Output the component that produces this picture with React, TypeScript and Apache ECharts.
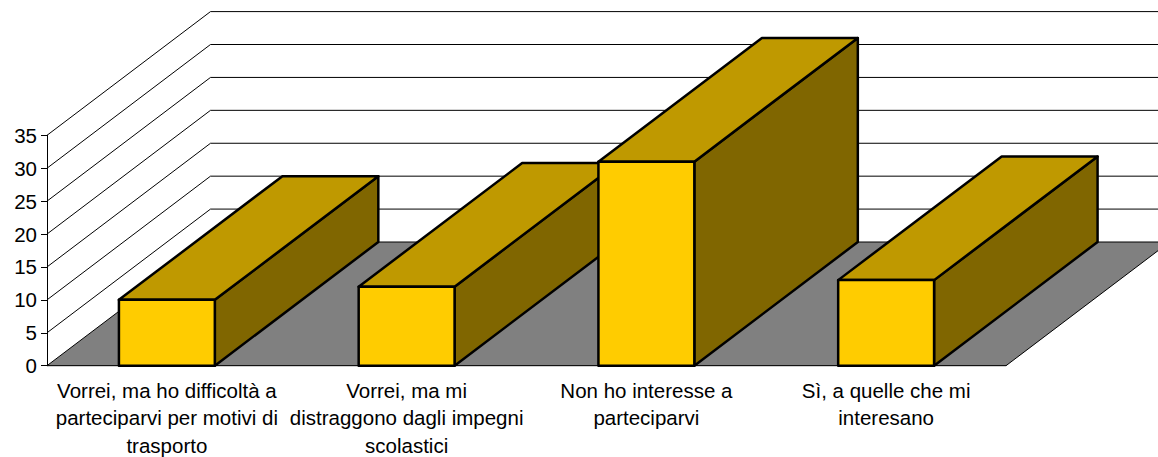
import React, { useEffect, useRef } from "react";
import * as echarts from "echarts";

const categories = [
  "Vorrei, ma ho difficoltà a\nparteciparvi per motivi di\ntrasporto",
  "Vorrei, ma mi\ndistraggono dagli impegni\nscolastici",
  "Non ho interesse a\nparteciparvi",
  "Sì, a quelle che mi\ninteresano",
];
const values = [10, 12, 31, 13];
const gridValues = [5, 10, 15, 20, 25, 30, 35];

const DX = 163.5;
const DY = 123.7;
const FRONT = "#FFCC00";
const TOP = "#BF9900";
const SIDE = "#806600";
const FLOOR = "#808080";
const FONT = "'Liberation Sans', Arial, sans-serif";

export default function App() {
  const ref = useRef<HTMLDivElement>(null);
  useEffect(() => {
    const chart = echarts.init(ref.current!, null, { renderer: "svg" });
    chart.setOption({
      animation: false,
      backgroundColor: "#ffffff",
      grid: {
        left: 47,
        top: 135.3,
        width: 959,
        height: 230.4,
        containLabel: false,
        outerBoundsMode: "none",
      },
      xAxis: {
        type: "category",
        data: categories,
        axisLine: { show: true, lineStyle: { color: "#000", width: 1 } },
        axisTick: { show: false },
        axisLabel: {
          interval: 0,
          color: "#000",
          fontFamily: FONT,
          fontSize: 20.5,
          lineHeight: 27.5,
          margin: 11,
        },
      },
      yAxis: {
        type: "value",
        min: 0,
        max: 35,
        interval: 5,
        splitLine: { show: false },
        axisLine: { show: true, lineStyle: { color: "#000", width: 1 } },
        axisTick: { show: true, length: 6, lineStyle: { color: "#000", width: 1 } },
        axisLabel: { color: "#000", fontFamily: FONT, fontSize: 20.5, margin: 10 },
      },
      series: [
        {
          type: "custom",
          silent: true,
          data: gridValues.map((v) => [0, v]),
          encode: { x: 0, y: 1 },
          renderItem: (params: any, api: any) => {
            const v = api.value(1);
            const cs = params.coordSys;
            const y = api.coord([0, v])[1];
            return {
              type: "polyline",
              shape: {
                points: [
                  [cs.x, y],
                  [cs.x + DX, y - DY],
                  [cs.x + cs.width + DX, y - DY],
                ],
              },
              style: { fill: "none", stroke: "#000", lineWidth: 1 },
            };
          },
        },
        {
          type: "custom",
          silent: true,
          data: [[0, 0]],
          encode: { x: 0, y: 1 },
          renderItem: (params: any, api: any) => {
            const cs = params.coordSys;
            const y = api.coord([0, 0])[1];
            const l = cs.x;
            const r = cs.x + cs.width;
            return {
              type: "polygon",
              shape: {
                points: [
                  [l, y],
                  [r, y],
                  [r + DX, y - DY],
                  [l + DX, y - DY],
                ],
              },
              style: { fill: FLOOR, stroke: "#000", lineWidth: 1 },
            };
          },
        },
        {
          type: "custom",
          silent: true,
          data: values.map((v, i) => [i, v]),
          encode: { x: 0, y: 1 },
          renderItem: (_params: any, api: any) => {
            const i = api.value(0);
            const [cx, yTop] = api.coord([i, api.value(1)]);
            const yBase = api.coord([i, 0])[1];
            const w = api.size([1, 0])[0] * 0.4;
            const l = cx - w / 2;
            const r = cx + w / 2;
            const edge = { stroke: "#000", lineWidth: 2.5, lineJoin: "round" };
            const poly = (points: number[][], fill: string) => ({
              type: "polygon",
              shape: { points },
              style: { fill, ...edge },
            });
            return {
              type: "group",
              children: [
                poly(
                  [
                    [r, yBase],
                    [r + DX, yBase - DY],
                    [r + DX, yTop - DY],
                    [r, yTop],
                  ],
                  SIDE
                ),
                poly(
                  [
                    [l, yTop],
                    [r, yTop],
                    [r + DX, yTop - DY],
                    [l + DX, yTop - DY],
                  ],
                  TOP
                ),
                poly(
                  [
                    [l, yBase],
                    [r, yBase],
                    [r, yTop],
                    [l, yTop],
                  ],
                  FRONT
                ),
              ],
            };
          },
        },
      ],
    });
    return () => chart.dispose();
  }, []);
  return (
    <div
      ref={ref}
      style={{ position: "fixed", left: 0, top: 0, width: 1158, height: 457 }}
    />
  );
}
